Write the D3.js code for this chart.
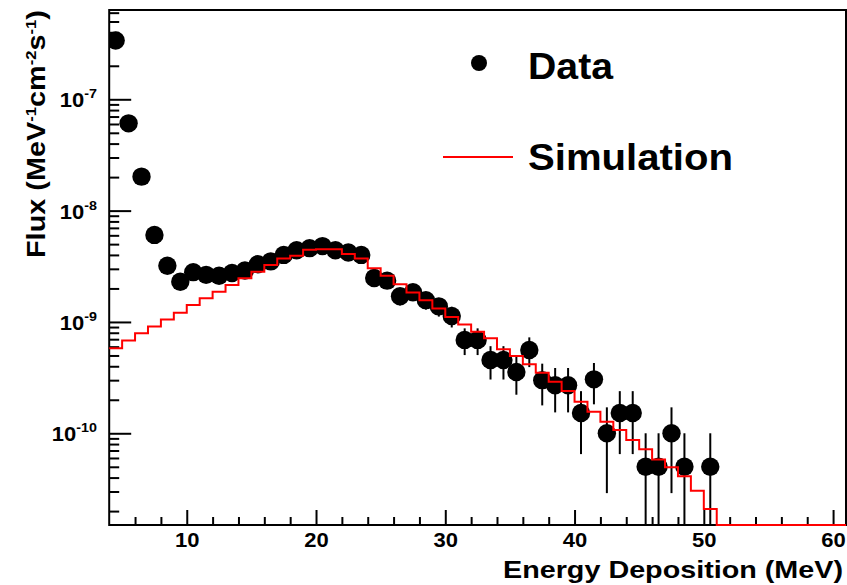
<!DOCTYPE html>
<html><head><meta charset="utf-8">
<script src="https://cdn.jsdelivr.net/npm/d3@7"></script>
<style>
body{margin:0;background:#fff}
svg{display:block}
text{font-family:"Liberation Sans",Arial,Helvetica,sans-serif;font-weight:bold;fill:#000}
</style>
</head><body>
<svg id="c" width="847" height="585"></svg>
<script>
// ---- data ----
const simBinLow = d3.range(4, 61); // 1 MeV bins from 4 to 61 MeV
const simFlux = [
  5.8e-10, 6.8e-10, 7.9e-10, 9.1e-10, 1.05e-9, 1.21e-9, 1.42e-9, 1.63e-9, 1.87e-9, 2.15e-9,
  2.47e-9, 2.83e-9, 3.24e-9, 3.72e-9, 3.94e-9, 4.45e-9, 4.5e-9, 4.5e-9, 4.07e-9, 3.72e-9,
  3.03e-9, 2.6e-9, 2.18e-9, 1.84e-9, 1.57e-9, 1.32e-9, 1.11e-9, 9.5e-10, 8.16e-10, 7.13e-10,
  5.68e-10, 4.94e-10, 4.16e-10, 3.5e-10, 2.9e-10, 2.4e-10, 1.92e-10, 1.56e-10, 1.27e-10, 1.07e-10,
  8.7e-11, 7.2e-11, 5.8e-11, 4.94e-11, 4.12e-11, 3.04e-11, 2.09e-11, 0, 0, 0,
  0, 0, 0, 0, 0, 0, 0
];
const dataEnergy = d3.range(4.5, 51, 1); // bin centres 4.5 ... 50.5 MeV
const dataFlux = [
  3.37e-7, 6.08e-8, 2.02e-8, 6.05e-9, 3.2e-9, 2.3e-9, 2.8e-9, 2.65e-9, 2.6e-9, 2.75e-9,
  2.9e-9, 3.3e-9, 3.5e-9, 4.0e-9, 4.4e-9, 4.6e-9, 4.8e-9, 4.4e-9, 4.2e-9, 4.0e-9,
  2.48e-9, 2.35e-9, 1.7e-9, 1.85e-9, 1.57e-9, 1.38e-9, 1.13e-9, 6.9e-10, 6.9e-10, 4.55e-10,
  4.55e-10, 3.55e-10, 5.6e-10, 3.0e-10, 2.7e-10, 2.7e-10, 1.52e-10, 3.05e-10, 1.0e-10, 1.52e-10,
  1.52e-10, 5.0e-11, 5.0e-11, 1.0e-10, 5.0e-11, null, 5.0e-11
];
const dataErr = [
  4.1e-9, 1.74e-9, 1.0e-9, 5.5e-10, 4.0e-10, 3.4e-10, 3.74e-10, 3.64e-10, 3.61e-10, 3.71e-10,
  3.81e-10, 4.06e-10, 4.18e-10, 4.47e-10, 4.69e-10, 4.8e-10, 4.9e-10, 4.69e-10, 4.58e-10, 4.47e-10,
  3.52e-10, 3.43e-10, 2.92e-10, 3.04e-10, 2.8e-10, 2.63e-10, 2.38e-10, 1.86e-10, 1.86e-10, 1.51e-10,
  1.51e-10, 1.33e-10, 1.67e-10, 1.22e-10, 1.16e-10, 1.16e-10, 8.7e-11, 1.23e-10, 7.1e-11, 8.7e-11,
  8.7e-11, 5.0e-11, 5.0e-11, 7.1e-11, 5.0e-11, null, 5.0e-11
];
const xMajorTicks = [10, 20, 30, 40, 50, 60];
const xMinorTicks = [6, 8, 12, 14, 16, 18, 22, 24, 26, 28, 32, 34, 36, 38, 42, 44, 46, 48, 52, 54, 56, 58];
const yDecadeTicks = [1e-10, 1e-9, 1e-8, 1e-7];
const yTickExponents = ["-10", "-9", "-8", "-7"];
const legendLabels = ["Data", "Simulation"];

// ---- scales ----
const svg = d3.select("#c");
const x = d3.scaleLinear().domain([4, 61]).range([109.2, 846]);
const y = d3.scaleLog().domain([1.5e-11, 6.34e-7]).range([525, 10]);
const yBottom = y.range()[0];
const yv = v => (v > 0 ? y(v) : yBottom);

svg.append("defs").append("clipPath").attr("id", "clip")
  .append("rect").attr("x", x(4)).attr("y", y.range()[1])
  .attr("width", x(61) - x(4)).attr("height", yBottom - y.range()[1]);

const plot = svg.append("g").attr("clip-path", "url(#clip)");

// ---- data points with error bars ----
const pts = dataEnergy.map((e, i) => ({e, v: dataFlux[i], err: dataErr[i]})).filter(d => d.v != null);
plot.append("g").selectAll("line").data(pts).join("line")
  .attr("x1", d => x(d.e)).attr("x2", d => x(d.e))
  .attr("y1", d => yv(d.v + d.err)).attr("y2", d => yv(d.v - d.err))
  .attr("stroke", "#000").attr("stroke-width", 2);
plot.append("g").selectAll("circle").data(pts).join("circle")
  .attr("cx", d => x(d.e)).attr("cy", d => y(d.v)).attr("r", 9.2).attr("fill", "#000");

// ---- axes frame ----
svg.append("rect").attr("x", x(4)).attr("y", y.range()[1])
  .attr("width", x(61) - x(4)).attr("height", yBottom - y.range()[1])
  .attr("fill", "none").attr("stroke", "#000").attr("stroke-width", 2);

const xAxis = svg.append("g").attr("transform", `translate(0,${yBottom})`)
  .call(d3.axisBottom(x).tickValues(xMajorTicks).tickSize(-15).tickPadding(8).tickFormat(d3.format("d")));
const xMinor = svg.append("g").attr("transform", `translate(0,${yBottom})`)
  .call(d3.axisBottom(x).tickValues(xMinorTicks).tickSize(-8).tickFormat(""));
[xAxis, xMinor].forEach(g => {
  g.select(".domain").remove();
  g.selectAll(".tick line").attr("stroke", "#000").attr("stroke-width", 2);
});
xAxis.selectAll(".tick text").attr("font-size", 20)
  .style("font-family", '"Liberation Sans",Arial,sans-serif').style("font-weight", "bold")
  .attr("transform", "scale(1.1,1)");

const yMinorVals = y.ticks().filter(v => !yDecadeTicks.some(t => Math.abs(v / t - 1) < 1e-6));
const yAxis = svg.append("g").attr("transform", `translate(${x(4)},0)`)
  .call(d3.axisLeft(y).tickValues(yDecadeTicks).tickSize(-22).tickFormat(""));
const yMinor = svg.append("g").attr("transform", `translate(${x(4)},0)`)
  .call(d3.axisLeft(y).tickValues(yMinorVals).tickSize(-10).tickFormat(""));
[yAxis, yMinor].forEach(g => {
  g.select(".domain").remove();
  g.selectAll(".tick line").attr("stroke", "#000").attr("stroke-width", 2);
});
yDecadeTicks.forEach((t, i) => {
  const txt = svg.append("text")
    .attr("transform", `translate(97,${y(t) + 8}) scale(1.1,1)`)
    .attr("text-anchor", "end").attr("font-size", 20);
  txt.append("tspan").text("10");
  txt.append("tspan").attr("dy", -9).attr("font-size", 13).text(yTickExponents[i]);
});

// ---- simulation histogram ----
const simPts = simBinLow.map((e, i) => ({e, v: simFlux[i]}));
simPts.push({e: 61, v: simFlux[simFlux.length - 1]});
const line = d3.line().x(d => x(d.e)).y(d => yv(d.v)).curve(d3.curveStepAfter);
svg.append("path").datum(simPts).attr("d", line)
  .attr("fill", "none").attr("stroke", "#ff0000").attr("stroke-width", 2);

// ---- axis titles ----
const yt = svg.append("text")
  .attr("transform", "translate(45,134) rotate(-90)")
  .attr("text-anchor", "middle").attr("font-size", 26)
  .attr("textLength", 248).attr("lengthAdjust", "spacingAndGlyphs");
yt.append("tspan").text("Flux (MeV");
yt.append("tspan").attr("dy", -9).attr("font-size", 15).text("-1");
yt.append("tspan").attr("dy", 9).text("cm");
yt.append("tspan").attr("dy", -9).attr("font-size", 15).text("-2");
yt.append("tspan").attr("dy", 9).text("s");
yt.append("tspan").attr("dy", -9).attr("font-size", 15).text("-1");
yt.append("tspan").attr("dy", 9).text(")");

svg.append("text").attr("x", 843).attr("y", 578)
  .attr("text-anchor", "end").attr("font-size", 24)
  .attr("textLength", 340).attr("lengthAdjust", "spacingAndGlyphs")
  .text("Energy Deposition (MeV)");

// ---- legend ----
svg.append("circle").attr("cx", 479).attr("cy", 63).attr("r", 8).attr("fill", "#000");
svg.append("line").attr("x1", 443).attr("x2", 513).attr("y1", 157).attr("y2", 157)
  .attr("stroke", "#ff0000").attr("stroke-width", 2);
svg.append("text").attr("x", 528).attr("y", 78.5).attr("font-size", 36)
  .attr("textLength", 85).attr("lengthAdjust", "spacingAndGlyphs").text(legendLabels[0]);
svg.append("text").attr("x", 528).attr("y", 170).attr("font-size", 36)
  .attr("textLength", 205).attr("lengthAdjust", "spacingAndGlyphs").text(legendLabels[1]);
</script>
</body></html>
